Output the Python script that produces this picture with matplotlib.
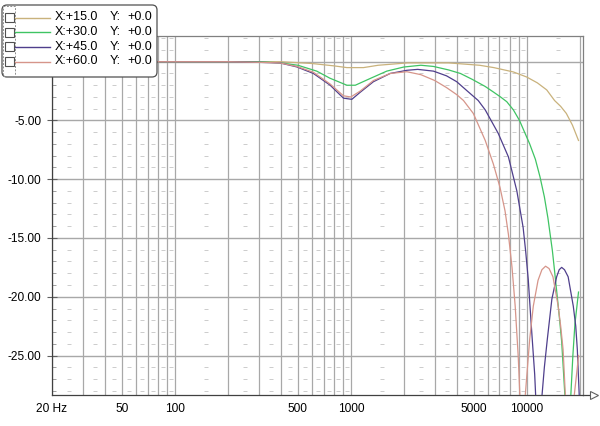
import numpy as np
import matplotlib
matplotlib.use('Agg')
import matplotlib.pyplot as plt
from matplotlib.patches import FancyBboxPatch, Rectangle

plt.rcParams['font.family'] = ['Liberation Sans', 'DejaVu Sans']

# Off-axis response curves
freq_15 = [20, 100, 200, 300, 400, 600, 800, 950, 1180, 1430, 2100, 3600, 5400, 6500,
           8400, 10000, 11500, 13000, 14400, 15600, 16800, 18200, 19700]
db_15 = [0, 0, 0, 0, 0, -0.15, -0.35, -0.5, -0.5, -0.3, -0.1, -0.1, -0.3, -0.5,
         -0.87, -1.3, -1.8, -2.4, -3.3, -3.8, -4.4, -5.4, -6.7]

freq_30 = [20, 200, 300, 400, 500, 640, 760, 950, 1060, 1300, 1600, 2000, 2500, 2950,
           3600, 4200, 4900, 5800, 6500, 7100, 7700, 8400, 9100, 10400, 11200, 11900,
           12600, 13200, 14000, 14400, 14800, 15300, 15800, 16500, 17200, 17800, 18300,
           18800, 19300, 19700]
db_30 = [0, 0, 0, -0.1, -0.3, -0.8, -1.4, -2.0, -2.0, -1.4, -0.8, -0.45, -0.3, -0.4,
         -0.7, -1.0, -1.5, -2.1, -2.6, -3.0, -3.4, -4.1, -5.0, -7.0, -8.3, -9.8,
         -11.5, -13.3, -16.1, -17.8, -19.5, -21.6, -23.8, -28.5, -40, -28.5, -25.0,
         -22.3, -20.8, -19.6]

freq_45 = [20, 200, 300, 395, 493, 613, 763, 908, 1013, 1130, 1344, 1672, 2080, 2400,
           2950, 3500, 4000, 4600, 5300, 5810, 6890, 7870, 8790, 9540, 9860, 10200,
           10600, 11100, 11250, 11700, 12200, 12600, 13100, 13900, 14800, 15300, 15800,
           16400, 17200, 18400, 19000, 19400, 19900]
db_45 = [0, 0, -0.05, -0.1, -0.44, -1.0, -2.0, -3.1, -3.2, -2.6, -1.7, -1.0, -0.73, -0.65,
         -0.8, -1.2, -1.7, -2.5, -3.3, -4.1, -6.1, -8.1, -11.0, -14.1, -16.1, -18.5,
         -22.3, -26.6, -28.5, -40, -28.5, -26.0, -23.6, -20.2, -18.3, -17.7, -17.5,
         -17.7, -18.3, -20.8, -22.5, -24.5, -28.5]

freq_60 = [20, 200, 300, 395, 493, 613, 763, 908, 1000, 1130, 1344, 1672, 2080, 2500,
           3000, 3500, 4000, 4370, 4970, 5810, 6460, 7050, 7530, 7870, 8250, 8600,
           8950, 9150, 9400, 9800, 10100, 10400, 10900, 11600, 12200, 12800, 13400,
           14100, 15100, 15600, 16100, 16600, 17200, 18600, 19400, 19700]
db_60 = [0, 0, -0.05, -0.1, -0.4, -0.9, -1.9, -2.9, -3.0, -2.5, -1.6, -1.0, -0.85, -1.1,
         -1.6, -2.2, -2.8, -3.3, -4.4, -6.7, -8.7, -10.7, -12.7, -14.7, -17.5, -20.8,
         -25.1, -28.5, -40, -28.5, -26.0, -23.6, -20.8, -18.6, -17.7, -17.4, -17.6,
         -18.3, -20.8, -22.5, -24.5, -28.5, -40, -28.5, -26, -25]

labels_x = ['X:+15.0', 'X:+30.0', 'X:+45.0', 'X:+60.0']
labels_y = ['+0.0', '+0.0', '+0.0', '+0.0']
colors = ['#c9b27c', '#3fc463', '#4f3f8c', '#d6958a']

fig = plt.figure(figsize=(6, 4.26), dpi=100)
ax = fig.add_axes([0.0867, 0.0728, 0.885, 0.8427])

for f, d, c in zip([freq_15, freq_30, freq_45, freq_60], [db_15, db_30, db_45, db_60], colors):
    ax.plot(f, d, color=c, lw=0.9, zorder=3)

ax.set_xscale('log')
ax.set_xlim(20, 20900)
ax.set_ylim(-28.36, 2.19)

major_x = [20, 50, 100, 500, 1000, 5000, 10000]
minor_x = [30, 40, 60, 70, 80, 90, 200, 300, 400, 600, 700, 800, 900,
           2000, 3000, 4000, 6000, 7000, 8000, 9000, 20000]
ax.set_xticks(major_x)
ax.set_xticklabels(['20 Hz', '50', '100', '500', '1000', '5000', '10000'])
ax.set_xticks(minor_x, minor=True)
ax.xaxis.set_minor_formatter(plt.NullFormatter())
ax.tick_params(axis='x', which='both', length=0, pad=6, labelsize=8.6)

ax.set_yticks([0, -5, -10, -15, -20, -25])
ax.set_yticklabels(['0.00', '-5.00', '-10.00', '-15.00', '-20.00', '-25.00'])
ax.set_yticks(np.arange(-28, 3, 1), minor=True)
ax.tick_params(axis='y', which='major', direction='inout', length=7, width=0.8,
               color='#606060', pad=4, labelsize=8.6)
ax.tick_params(axis='y', which='minor', direction='in', length=3, width=0.6, color='#909090')

ax.grid(True, axis='x', which='both', color='#a8a8a8', lw=0.9, zorder=1)
ax.grid(True, axis='y', which='major', color='#a8a8a8', lw=1.0, zorder=1)

# small dash marks of the fine grid
half_x = [25, 35, 45, 55, 65, 75, 85, 95, 150, 250, 350, 450, 550, 650, 750, 850, 950,
          1500, 2500, 3500, 4500, 5500, 6500, 7500, 8500, 9500, 15000]
half_y = [v for v in range(-28, 3) if v % 5 != 0]
gx, gy = np.meshgrid(half_x, half_y)
ax.plot(gx.ravel(), gy.ravel(), ls='none', marker='_', ms=2.5, mew=0.6, color='#c4c4c4', zorder=1)

for s in ['top', 'right']:
    ax.spines[s].set_color('#808080')
    ax.spines[s].set_linewidth(0.9)
for s in ['left', 'bottom']:
    ax.spines[s].set_color('#404040')
    ax.spines[s].set_linewidth(0.9)

# arrow at end of the frequency axis
ax.plot([1.0, 1.016], [0, 0], transform=ax.transAxes, color='#404040', lw=0.9, clip_on=False)
ax.plot([1.02], [0], transform=ax.transAxes, marker='>', ms=6, mfc='white', mec='#606060',
        mew=0.8, clip_on=False)

# legend box drawn in pixel coordinates
ov = fig.add_axes([0, 0, 1, 1], zorder=5)
ov.set_xlim(0, 600)
ov.set_ylim(426, 0)
ov.axis('off')
ov.patch.set_alpha(0)
ov.add_patch(FancyBboxPatch((2, 5), 155, 72, boxstyle='round,pad=0,rounding_size=5',
                            fc='white', ec='#505050', lw=0.9))
ov.add_patch(Rectangle((3, 6), 12, 70, fc='none', ec='#909090', lw=0.7, ls=(0, (2, 1.5))))
rows = [17.5, 32.2, 46.8, 61.5]
for r, c, lx, ly in zip(rows, colors, labels_x, labels_y):
    ov.add_patch(Rectangle((5, r - 4.5), 9, 9, fc='white', ec='#505050', lw=0.8))
    ov.plot([15, 50], [r, r], color=c, lw=1.0)
    ov.text(55, r, lx, fontsize=9, va='center', ha='left')
    ov.text(110, r, 'Y:', fontsize=9, va='center', ha='left')
    ov.text(127, r, ly, fontsize=9, va='center', ha='left')

fig.savefig('out.png', dpi=100)
